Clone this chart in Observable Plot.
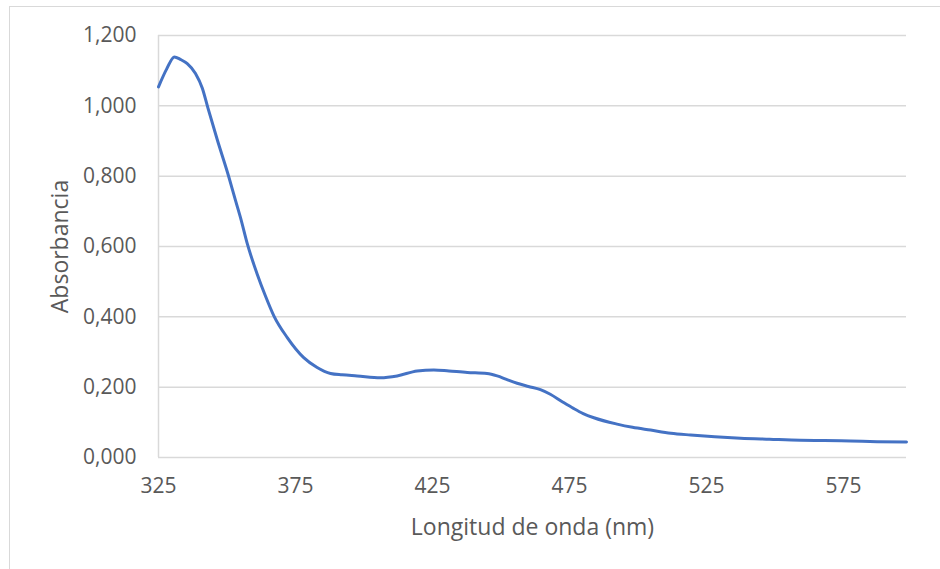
<!DOCTYPE html>
<html>
<head>
<meta charset="utf-8">
<script src="https://cdn.jsdelivr.net/npm/d3@7"></script>
<script src="https://cdn.jsdelivr.net/npm/@observablehq/plot@0.6"></script>
<style>
  html, body { margin: 0; padding: 0; background: #fff; overflow: hidden; }
  #wrap { position: relative; width: 940px; height: 569px; }
  #frame { position: absolute; left: 9px; top: 6px; width: 960px; height: 600px; border: 1.5px solid #d9d9d9; box-sizing: border-box; }
  #chart { position: absolute; left: 0; top: 0; }
</style>
</head>
<body>
<div id="wrap"><div id="frame"></div><div id="chart"></div></div>
<script>
const wavelength = [325, 328, 330.8, 333, 335.5, 338.5, 341, 343, 346.4, 350.7, 353.1, 355, 357.4, 361, 364, 367.1, 372, 378, 382.9, 387.8, 392, 397.5, 406, 412.1, 419.4, 425.5, 431, 437.7, 444.9, 448.6, 452, 455.9, 460, 464.4, 468, 472.5, 476.6, 480, 483.9, 492.4, 498, 504.6, 512, 519.2, 528, 537.4, 548, 559.3, 568, 577.6, 587.3, 598];
const absorbance = [1.054, 1.105, 1.139, 1.132, 1.120, 1.092, 1.050, 0.995, 0.905, 0.797, 0.731, 0.680, 0.608, 0.522, 0.460, 0.403, 0.341, 0.284, 0.256, 0.239, 0.235, 0.232, 0.227, 0.232, 0.246, 0.249, 0.246, 0.242, 0.239, 0.232, 0.222, 0.211, 0.202, 0.193, 0.180, 0.158, 0.139, 0.125, 0.113, 0.095, 0.086, 0.078, 0.069, 0.064, 0.059, 0.055, 0.052, 0.049, 0.048, 0.047, 0.045, 0.044];
const xTicks = [325, 375, 425, 475, 525, 575];
const yTicks = [0, 0.2, 0.4, 0.6, 0.8, 1.0, 1.2];
const xTitle = "Longitud de onda (nm)";
const yTitle = "Absorbancia";

const data = wavelength.map((w, i) => ({w, a: absorbance[i]}));
const fmtY = d => d3.format(".3f")(d).replace(".", ",");

const chart = Plot.plot({
  width: 940,
  height: 569,
  marginLeft: 158,
  marginRight: 34,
  marginTop: 35,
  marginBottom: 112,
  style: {fontFamily: "'Open Sans', sans-serif", fontSize: "21px", color: "#595959", background: "transparent"},
  x: {domain: [325, 598], ticks: xTicks, tickFormat: d => String(d), tickSize: 0, tickPadding: 21, label: null},
  y: {domain: [0, 1.2], ticks: yTicks, tickFormat: fmtY, tickSize: 0, tickPadding: 22, label: null},
  marks: [
    Plot.gridY(yTicks, {stroke: "#d9d9d9", strokeOpacity: 1, strokeWidth: 1.5}),
    Plot.ruleX([325], {stroke: "#d9d9d9", strokeWidth: 1.5}),
    Plot.axisX({ticks: xTicks, tickSize: 0, tickPadding: 21, tickFormat: d => String(d), label: null, fill: "#595959", fontSize: 21}),
    Plot.axisY({ticks: yTicks, tickSize: 0, tickPadding: 22, tickFormat: fmtY, label: null, fill: "#595959", fontSize: 21}),
    Plot.line(data, {x: "w", y: "a", stroke: "#4472C4", strokeWidth: 3, curve: "monotone-x"}),
    Plot.text([xTitle], {frameAnchor: "bottom", dy: 70, lineAnchor: "middle", fontSize: 23, fill: "#595959"}),
    Plot.text([yTitle], {frameAnchor: "left", dx: -98, rotate: -90, textAnchor: "middle", lineAnchor: "middle", fontSize: 23, fill: "#595959"})
  ]
});
document.getElementById("chart").appendChild(chart);
</script>
</body>
</html>
